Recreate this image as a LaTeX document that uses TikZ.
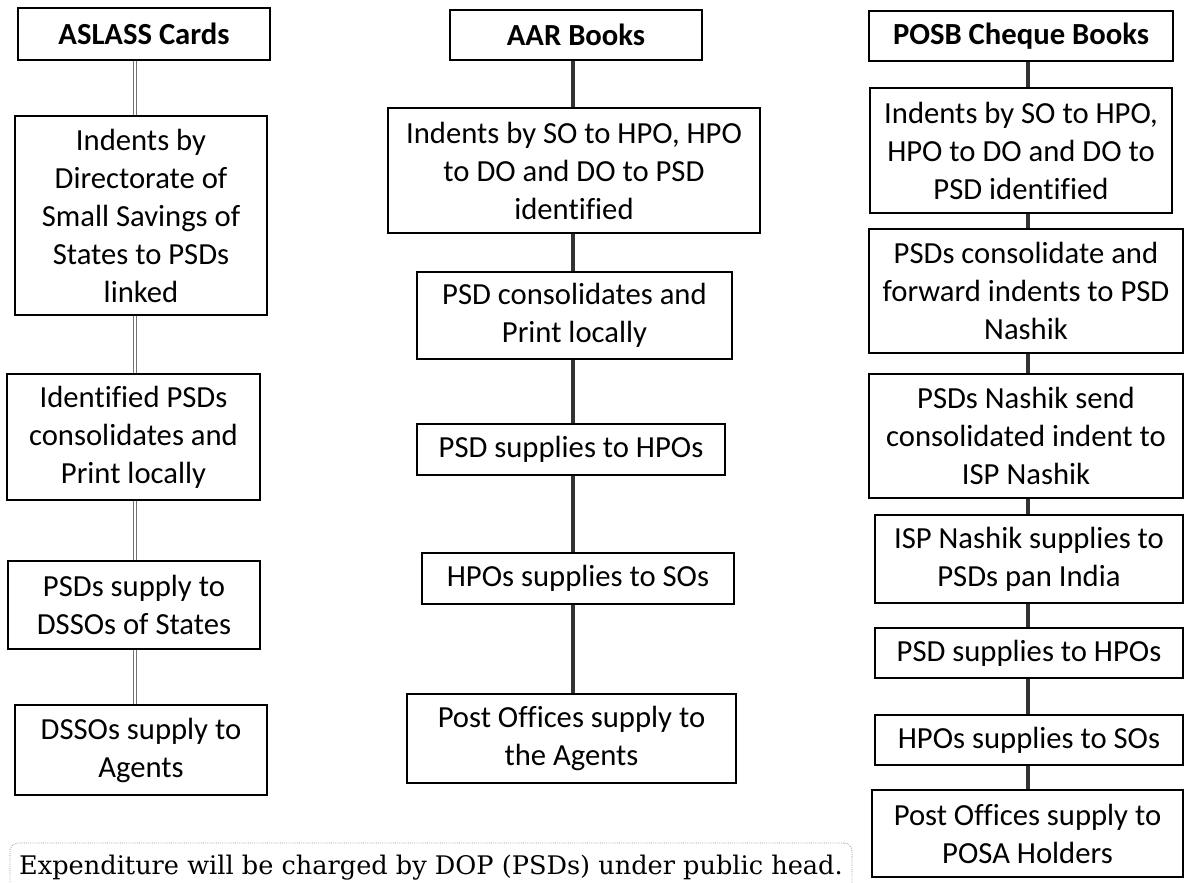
\documentclass[tikz,border=0pt]{standalone}
\usepackage{fontspec}
\setmainfont{Carlito}[Ligatures=NoCommon]
\newfontfamily\notefont{DejaVu Serif}

\tikzset{every picture/.style={line width=0.75pt}}
\tikzset{
  stepbox/.style={draw, line width=1.5pt, inner sep=0pt, align=center, font=\fontsize{23}{28.5}\selectfont},
  headbox/.style={stepbox, font=\fontsize{23}{28.5}\selectfont\bfseries},
  dbllink/.style={draw=black!55, double=white, double distance=1.5pt, line width=0.6pt},
  solidlink/.style={draw=black!80, line width=2.4pt},
  noteframe/.style={draw=black!45, densely dotted, line width=0.6pt, rounded corners=6pt, inner sep=0pt, font=\notefont\fontsize{19.2}{23}\selectfont}
}

\begin{document}
\begin{tikzpicture}[x=0.75pt,y=0.75pt,yscale=-1,xscale=1]
\useasboundingbox (0,0) rectangle (1185,882);
\clip (0,0) rectangle (1185,882);

% ASLASS Cards column
\node (L1) [headbox, minimum width=189pt, minimum height=39pt] at (144,34) {ASLASS Cards};
\node (L2) [stepbox, minimum width=189pt, minimum height=149.25pt] at (141,215.5) {Indents by\\Directorate of\\Small Savings of\\States to PSDs\\linked};
\node (L3) [stepbox, minimum width=189.75pt, minimum height=94.5pt] at (133.5,437) {Identified PSDs\\consolidates and\\Print locally};
\node (L4) [stepbox, minimum width=189pt, minimum height=66pt] at (134,605) {PSDs supply to\\DSSOs of States};
\node (L5) [stepbox, minimum width=189pt, minimum height=67.5pt] at (141,750) {DSSOs supply to\\Agents};

% AAR Books column
\node (M1) [headbox, minimum width=189pt, minimum height=37.5pt] at (576,35) {AAR Books};
\node (M2) [stepbox, minimum width=279pt, minimum height=93.75pt] at (574,170.5) {Indents by SO to HPO, HPO\\to DO and DO to PSD\\identified};
\node (M3) [stepbox, minimum width=236.25pt, minimum height=65.25pt] at (574.5,315.5) {PSD consolidates and\\Print locally};
\node (M4) [stepbox, minimum width=231pt, minimum height=38.25pt] at (571,449.5) {PSD supplies to HPOs};
\node (M5) [stepbox, minimum width=234pt, minimum height=38.25pt] at (578,578.5) {HPOs supplies to SOs};
\node (M6) [stepbox, minimum width=246.75pt, minimum height=66.75pt] at (571.5,738.5) {Post Offices supply to\\the Agents};

% POSB Cheque Books column
\node (R1) [headbox, minimum width=228pt, minimum height=37.5pt] at (1021,36) {POSB Cheque Books};
\node (R2) [stepbox, minimum width=226.5pt, minimum height=93.75pt] at (1021,150.5) {Indents by SO to HPO,\\HPO to DO and DO to\\PSD identified};
\node (R3) [stepbox, minimum width=235.5pt, minimum height=93pt] at (1026,291) {PSDs consolidate and\\forward indents to PSD\\Nashik};
\node (R4) [stepbox, minimum width=235.5pt, minimum height=93pt] at (1026,436) {PSDs Nashik send\\consolidated indent to\\ISP Nashik};
\node (R5) [stepbox, minimum width=231pt, minimum height=66pt] at (1029,559) {ISP Nashik supplies to\\PSDs pan India};
\node (R6) [stepbox, minimum width=231pt, minimum height=37.5pt] at (1029,653) {PSD supplies to HPOs};
\node (R7) [stepbox, minimum width=231pt, minimum height=37.5pt] at (1029,740) {HPOs supplies to SOs};
\node (R8) [stepbox, minimum width=233.25pt, minimum height=65.25pt] at (1027.5,833.5) {Post Offices supply to\\POSA Holders};

% Note
\node (note) [noteframe, minimum width=631.5pt, minimum height=37.5pt] at (431,868) {Expenditure will be charged by DOP (PSDs) under public head.};

% Links
\coordinate (lcol) at (135,0);
\coordinate (mcol) at (573,0);
\coordinate (rcol) at (1028,0);
\draw [dbllink] (L1.south -| lcol) -- (L2.north -| lcol);
\draw [dbllink] (L2.south -| lcol) -- (L3.north -| lcol);
\draw [dbllink] (L3.south -| lcol) -- (L4.north -| lcol);
\draw [dbllink] (L4.south -| lcol) -- (L5.north -| lcol);
\draw [solidlink] (M1.south -| mcol) -- (M2.north -| mcol);
\draw [solidlink] (M2.south -| mcol) -- (M3.north -| mcol);
\draw [solidlink] (M3.south -| mcol) -- (M4.north -| mcol);
\draw [solidlink] (M4.south -| mcol) -- (M5.north -| mcol);
\draw [solidlink] (M5.south -| mcol) -- (M6.north -| mcol);
\draw [solidlink] (R1.south -| rcol) -- (R2.north -| rcol);
\draw [solidlink] (R2.south -| rcol) -- (R3.north -| rcol);
\draw [solidlink] (R3.south -| rcol) -- (R4.north -| rcol);
\draw [solidlink] (R4.south -| rcol) -- (R5.north -| rcol);
\draw [solidlink] (R5.south -| rcol) -- (R6.north -| rcol);
\draw [solidlink] (R6.south -| rcol) -- (R7.north -| rcol);
\draw [solidlink] (R7.south -| rcol) -- (R8.north -| rcol);

\end{tikzpicture}
\end{document}
